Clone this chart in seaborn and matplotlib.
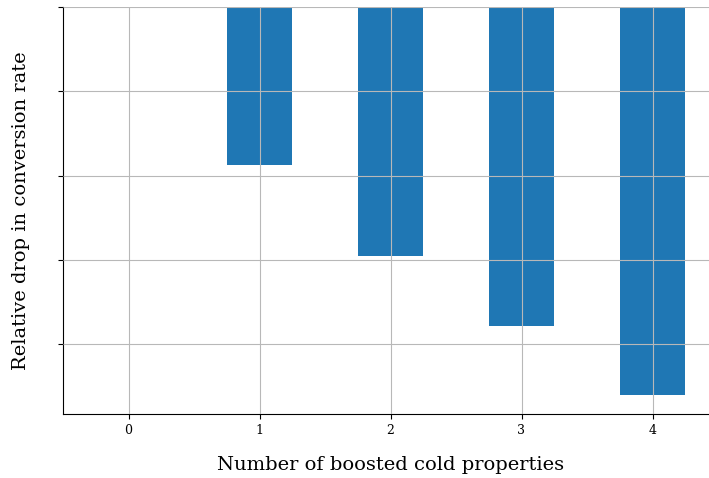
import matplotlib
matplotlib.use("Agg")
import matplotlib.pyplot as plt
import seaborn as sns
import pandas as pd

# number of boosted cold properties vs relative drop
n_boosted = [0, 1, 2, 3, 4]
drop = [0.0, -1.88, -2.95, -3.79, -4.60]

plt.rcParams['font.family'] = ['DejaVu Serif']

df = pd.DataFrame({'n': n_boosted, 'drop': drop})

fig = plt.figure(figsize=(7.09, 4.78), dpi=100)
ax = fig.add_axes([63 / 709, 64 / 478, 655 / 709, 407 / 478])

sns.barplot(data=df, x='n', y='drop', color='#1f77b4', saturation=1, width=0.5, ax=ax)
ax.set_xlim(-0.5, 4.5)
ax.set_yticks([0, -1, -2, -3, -4])
ax.tick_params(axis='y', labelleft=False)
ax.tick_params(axis='x', labelsize=9)
ax.grid(True, color='#b8b8b8', linewidth=0.8)
ax.set_axisbelow(False)
for s in ['top', 'right']:
    ax.spines[s].set_visible(False)

ax.set_xlabel('Number of boosted cold properties', fontsize=14, labelpad=14)
ax.set_ylabel('Relative drop in conversion rate', fontsize=14, labelpad=20)

fig.savefig('out.png', dpi=100)
